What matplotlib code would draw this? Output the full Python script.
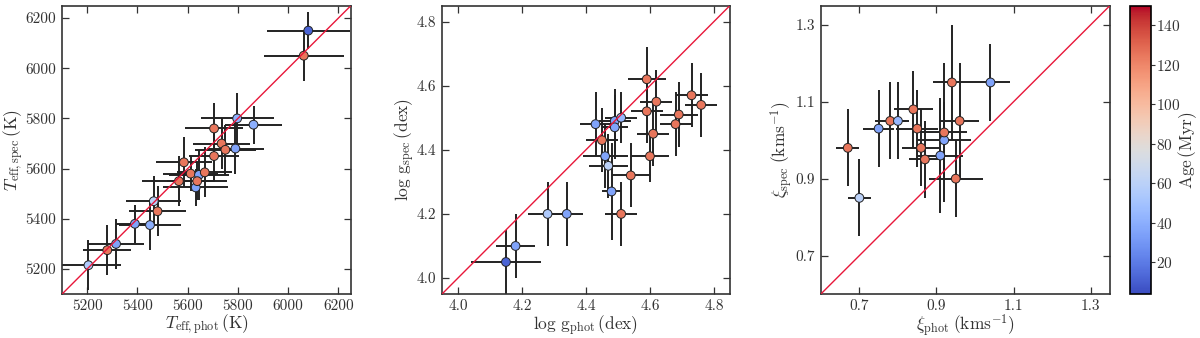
## photometric vs spectroscopic parameters, coloured by cluster age

import matplotlib
matplotlib.use('Agg')
import matplotlib.pyplot as plt
import numpy as np

plt.rcParams['font.family'] = 'serif'
plt.rcParams['font.serif'] = ['cmr10', 'DejaVu Serif']
plt.rcParams['mathtext.fontset'] = 'cm'
plt.rcParams['axes.formatter.use_mathtext'] = True

# Teff (K)
teff_phot  = [5205, 5280, 5315, 5390, 5450, 5465, 5480, 5565, 5585, 5612, 5632, 5645,
              5638, 5668, 5705, 5705, 5735, 5750, 5790, 5797, 5862, 6062, 6080]
teff_spec  = [5215, 5275, 5300, 5380, 5375, 5470, 5430, 5550, 5625, 5580, 5525, 5575,
              5550, 5585, 5650, 5760, 5700, 5675, 5680, 5800, 5775, 6050, 6150]
teff_xerr  = [130, 95, 110, 75, 125, 110, 115, 145, 110, 110, 130, 120,
              120, 110, 100, 115, 115, 120, 115, 145, 115, 160, 165]
teff_yerr  = [100, 100, 100, 75, 100, 100, 100, 100, 100, 70, 75, 100,
              75, 100, 100, 100, 100, 100, 100, 100, 75, 100, 75]
teff_age   = [55, 125, 35, 35, 40, 60, 125, 125, 125, 125, 35, 35,
              125, 125, 125, 125, 125, 125, 35, 40, 40, 125, 12]

# log g (dex)
logg_phot  = [4.15, 4.18, 4.28, 4.34, 4.43, 4.49, 4.51, 4.49, 4.45, 4.46, 4.47, 4.48,
              4.59, 4.62, 4.59, 4.73, 4.76, 4.69, 4.68, 4.61, 4.60, 4.54, 4.51]
logg_spec  = [4.05, 4.10, 4.20, 4.20, 4.48, 4.49, 4.50, 4.47, 4.43, 4.38, 4.35, 4.27,
              4.62, 4.55, 4.52, 4.57, 4.54, 4.51, 4.48, 4.45, 4.38, 4.32, 4.20]
logg_xerr  = [0.11, 0.06, 0.06, 0.05, 0.05, 0.05, 0.05, 0.04, 0.05, 0.07, 0.06, 0.03,
              0.06, 0.05, 0.05, 0.05, 0.05, 0.06, 0.05, 0.05, 0.06, 0.06, 0.05]
logg_yerr  = [0.10, 0.10, 0.10, 0.10, 0.10, 0.10, 0.08, 0.10, 0.10, 0.10, 0.10, 0.15,
              0.10, 0.10, 0.10, 0.10, 0.10, 0.10, 0.10, 0.10, 0.08, 0.10, 0.10]
logg_age   = [12, 35, 55, 35, 35, 35, 45, 35, 125, 35, 60, 35,
              125, 125, 125, 125, 125, 125, 125, 125, 125, 125, 125]

# microturbulence (km/s)
xi_phot    = [0.67, 0.70, 0.75, 0.78, 0.80, 0.84, 0.85, 0.86, 0.87, 0.91, 0.92, 0.92,
              0.94, 0.96, 0.95, 1.04]
xi_spec    = [0.98, 0.85, 1.03, 1.05, 1.05, 1.08, 1.03, 0.98, 0.95, 0.96, 1.00, 1.02,
              1.15, 1.05, 0.90, 1.15]
xi_xerr    = [0.03, 0.03, 0.04, 0.04, 0.03, 0.05, 0.055, 0.05, 0.04, 0.06, 0.07, 0.06,
              0.05, 0.05, 0.07, 0.05]
xi_yerr    = [0.10, 0.10, 0.10, 0.10, 0.10, 0.10, 0.10, 0.10, 0.10, 0.15, 0.10, 0.18,
              0.15, 0.15, 0.10, 0.10]
xi_age     = [125, 60, 35, 125, 45, 125, 125, 125, 125, 35, 35, 125,
              125, 125, 125, 35]

age_min, age_max = 4, 150

fig = plt.figure(figsize=(12, 3.38), dpi=100)
ax1 = fig.add_axes([0.0517, 0.130, 0.2408, 0.8537])
ax2 = fig.add_axes([0.3683, 0.130, 0.2400, 0.8537])
ax3 = fig.add_axes([0.6840, 0.130, 0.2410, 0.8537])
cax = fig.add_axes([0.9417, 0.130, 0.0172, 0.8537])

panels = [
    (ax1, teff_phot, teff_spec, teff_xerr, teff_yerr, teff_age, (5100, 6250), np.arange(5200, 6201, 200),
     r'$T_{\rm eff,phot}\,(\rm K)$', r'$T_{\rm eff,spec}\,(\rm K)$', '%d'),
    (ax2, logg_phot, logg_spec, logg_xerr, logg_yerr, logg_age, (3.95, 4.85), np.arange(4.0, 4.81, 0.2),
     r'$\log\,{\rm g}_{\rm phot}\,({\rm dex})$', r'$\log\,{\rm g}_{\rm spec}\,({\rm dex})$', '%.1f'),
    (ax3, xi_phot, xi_spec, xi_xerr, xi_yerr, xi_age, (0.6, 1.35), np.arange(0.7, 1.31, 0.2),
     r'$\xi_{\rm phot}\;({\rm kms}^{-1})$', r'$\xi_{\rm spec}\;({\rm kms}^{-1})$', '%.1f'),
]

for ax, xp, ys, xe, ye, age, lims, ticks, xlab, ylab, fmt in panels:
    ax.errorbar(xp, ys, xerr=xe, yerr=ye, fmt='none', ecolor='#222222', elinewidth=1.4, zorder=2)
    sc = ax.scatter(xp, ys, c=age, cmap='coolwarm', vmin=age_min, vmax=age_max,
                    s=40, edgecolors='#222222', linewidths=0.7, zorder=3)
    ax.plot(lims, lims, color='#e8173a', lw=1.0, zorder=4)
    ax.set_xlim(lims)
    ax.set_ylim(lims)
    ax.set_xticks(ticks)
    ax.set_yticks(ticks)
    ax.set_xticklabels([fmt % t for t in ticks])
    ax.set_yticklabels([fmt % t for t in ticks])
    ax.tick_params(direction='in', top=True, right=True, length=5, width=0.9,
                   labelsize=11, colors='#333333', pad=4)
    for sp in ax.spines.values():
        sp.set_linewidth(1.2)
        sp.set_color('#333333')
    ax.set_xlabel(xlab, fontsize=12.5, labelpad=0, color='#333333')
    ax.set_ylabel(ylab, fontsize=12.5, labelpad=0, color='#333333')

cb = fig.colorbar(sc, cax=cax, ticks=np.arange(20, 141, 20))
cb.ax.tick_params(direction='out', length=3, width=0.8, labelsize=11, colors='#333333', pad=1)
cb.outline.set_linewidth(1.2)
cb.set_label(r'${\rm Age}\,({\rm Myr})$', fontsize=12.5, color='#333333')
cb.ax.yaxis.set_label_coords(2.25, 0.5)

fig.savefig('out.png', dpi=100)
